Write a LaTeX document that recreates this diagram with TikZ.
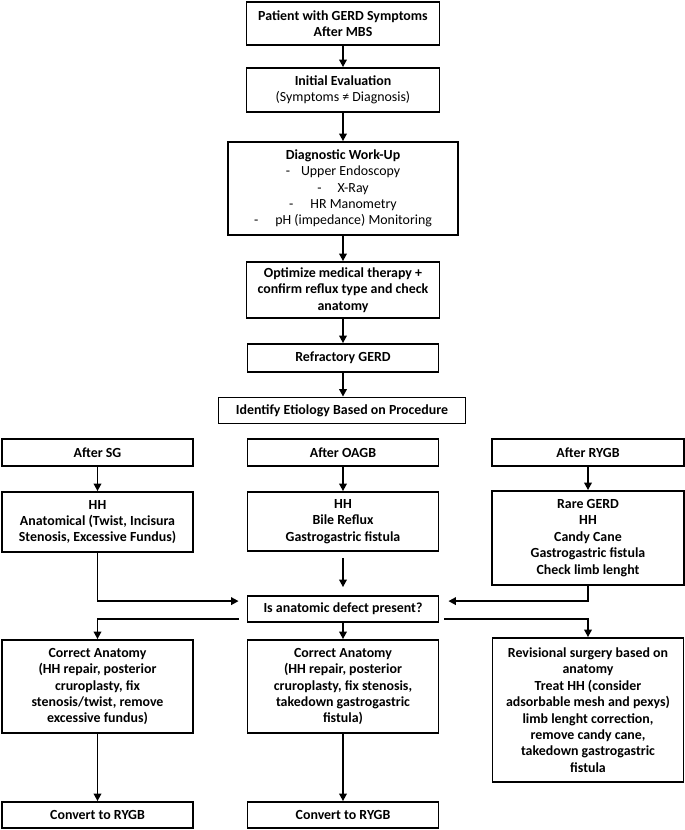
\documentclass[tikz,border=0pt]{standalone}
\usepackage{fontspec}
\setmainfont{Carlito}
\usetikzlibrary{arrows.meta}
\begin{document}
\begin{tikzpicture}[x=1pt,y=-1pt,
  box/.style={draw, line width=1.8pt, align=center, inner sep=1pt,
    font=\fontsize{13.9}{16.4}\selectfont\bfseries},
  arr/.style={line width=1.8pt, -{Triangle[length=7.5pt,width=7.5pt]}}]
\useasboundingbox (0,0) rectangle (685,830);
\node[box, minimum width=193pt, minimum height=43pt] (p) at (343,23.5) {Patient with GERD Symptoms\\After MBS};
\node[box, minimum width=193pt, minimum height=44pt] (ie) at (343,90) {Initial Evaluation\\{\mdseries (Symptoms ≠ Diagnosis)}};
\node[box, minimum width=230pt, minimum height=93pt] (dw) at (343,188.5) {Diagnostic Work-Up\\
  {\mdseries -\hspace{11pt}Upper Endoscopy}\\
  {\mdseries -\hspace{16pt}X-Ray}\\
  {\mdseries -\hspace{17pt}HR Manometry}\\
  {\mdseries -\hspace{17pt}pH (impedance) Monitoring}};
\node[box, minimum width=193pt, minimum height=56pt] (om) at (343,290) {Optimize medical therapy +\\confirm reflux type and check\\anatomy};
\node[box, minimum width=191pt, minimum height=28pt] (rg) at (343,358) {Refractory GERD};
\node[box, minimum width=247pt, minimum height=26pt] (ide) at (342,410.5) {Identify Etiology Based on Procedure};
\node[box, minimum width=191pt, minimum height=27pt] (asg) at (97.5,452.5) {After SG};
\node[box, minimum width=191pt, minimum height=27pt] (aog) at (343,452.5) {After OAGB};
\node[box, minimum width=192pt, minimum height=27pt] (ary) at (588,452.5) {After RYGB};
\node[box, minimum width=191pt, minimum height=60pt] (sgd) at (97.5,522) {HH\\Anatomical (Twist, Incisura\\Stenosis, Excessive Fundus)};
\node[box, minimum width=191pt, minimum height=59pt] (ogd) at (343,521.5) {HH\\Bile Reflux\\Gastrogastric fistula};
\node[box, minimum width=192pt, minimum height=94pt] (ryd) at (588,538) {Rare GERD\\HH\\Candy Cane\\Gastrogastric fistula\\Check limb lenght};
\node[box, minimum width=191pt, minimum height=26pt] (isd) at (343,609) {Is anatomic defect present?};
\node[box, minimum width=191pt, minimum height=93pt] (csg) at (97.5,686.5) {Correct Anatomy\\(HH repair, posterior\\cruroplasty, fix\\stenosis/twist, remove\\excessive fundus)};
\node[box, minimum width=191pt, minimum height=93pt] (cog) at (343,686.5) {Correct Anatomy\\(HH repair, posterior\\cruroplasty, fix stenosis,\\takedown gastrogastric\\fistula)};
\node[box, minimum width=191pt, minimum height=144pt] (rev) at (588,710) {Revisional surgery based on\\anatomy\\Treat HH (consider\\adsorbable mesh and pexys)\\limb lenght correction,\\remove candy cane,\\takedown gastrogastric\\fistula};
\node[box, minimum width=191pt, minimum height=26pt] (cv1) at (97.5,815) {Convert to RYGB};
\node[box, minimum width=191pt, minimum height=26pt] (cv2) at (343,815) {Convert to RYGB};
% main column
\draw[arr] (p) -- (ie);
\draw[arr] (ie) -- (dw);
\draw[arr] (dw) -- (om);
\draw[arr] (om) -- (rg);
\draw[arr] (rg.south) -- (rg.south |- ide.north);
\draw[arr] (asg) -- (sgd);
\draw[arr] (aog) -- (ogd);
\draw[arr] (ary) -- (ryd);
\draw[arr, shorten <=6pt, shorten >=8pt] (ogd) -- (isd);
\draw[arr, shorten >=8pt] (sgd.south) |- ([yshift=-6pt]isd.north west);
\draw[arr, shorten >=9pt] (ryd.south) |- ([yshift=-6pt]isd.north east);
\draw[arr] (isd) -- (cog);
\draw[arr, shorten <=8pt] ([yshift=4pt]isd.south west) -| (csg.north);
\draw[arr, shorten <=5pt] ([yshift=4pt]isd.south east) -| (rev.north);
\draw[arr] (csg) -- (cv1);
\draw[arr] (cog) -- (cv2);
\end{tikzpicture}
\end{document}
